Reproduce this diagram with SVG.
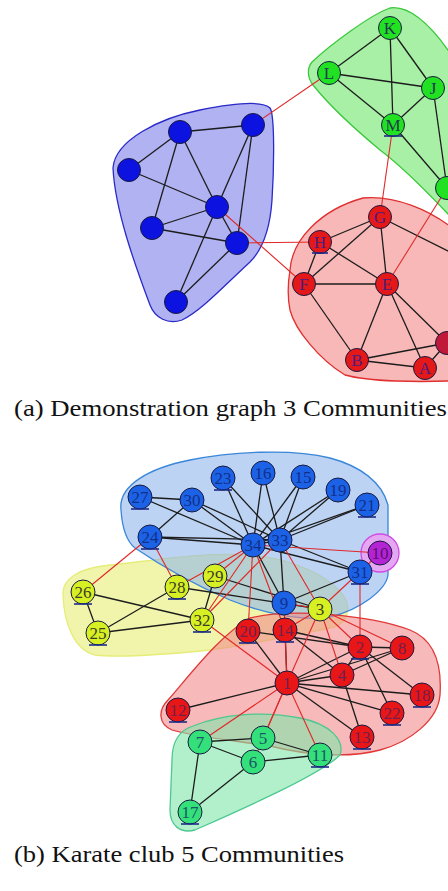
<svg xmlns="http://www.w3.org/2000/svg" width="448" height="891" viewBox="0 0 448 891">
  <defs>
    <style>
      .e { stroke: #1c1c1c; stroke-width: 1.3; fill: none; }
      .x { stroke: #e02828; stroke-width: 1.1; fill: none; }
      .n { stroke: #1a1a40; stroke-width: 1; }
      .u { stroke: #1a2a88; stroke-width: 1.6; }
      .lb { font-family: "Liberation Serif", serif; font-size: 17px; text-anchor: middle; }
      .cap { font-family: "Liberation Serif", serif; font-size: 23px; fill: #111; }
      .hull { stroke-width: 1.3; }
    </style>
  </defs>

  <!-- ===== (a) demonstration graph ===== -->
  <g id="a-hulls">
    <path id="hull-a-blue" class="hull" fill="#b0b2f2" stroke="#2a2ac8"
          d="M 113,168 C 115,140 160,118 200,110 C 230,104 262,100 270,108 C 275,115 274,170 272,200 C 270,230 262,250 250,262 C 225,285 200,312 182,320 C 168,325 155,318 150,305 C 135,265 115,210 113,168 Z"/>
    <path id="hull-a-green" class="hull" fill="#a8f0a6" stroke="#3cc83c"
          d="M 312,62 C 330,45 370,15 390,8 C 410,5 430,25 448,50 L 470,80 L 470,240 L 448,214 C 430,195 400,165 380,150 C 350,125 325,100 313,85 C 307,77 307,68 312,62 Z"/>
    <path id="hull-a-red" class="hull" fill="#f8b8b8" stroke="#e03030"
          d="M 290,270 C 292,240 320,210 363,198 C 395,195 430,210 455,230 L 470,250 L 470,385 L 448,381 C 420,382 370,382 345,375 C 320,360 295,330 290,310 C 287,295 288,282 290,270 Z"/>
  </g>

  <g id="a-connectors">
    <!-- blue community -->
    <line class="e" x1="129" y1="170" x2="180" y2="132"/>
    <line class="e" x1="180" y1="132" x2="253" y2="125"/>
    <line class="e" x1="129" y1="170" x2="217" y2="207"/>
    <line class="e" x1="180" y1="132" x2="217" y2="207"/>
    <line class="e" x1="180" y1="132" x2="152" y2="228"/>
    <line class="e" x1="253" y1="125" x2="217" y2="207"/>
    <line class="e" x1="253" y1="125" x2="237" y2="243"/>
    <line class="e" x1="217" y1="207" x2="152" y2="228"/>
    <line class="e" x1="152" y1="228" x2="237" y2="243"/>
    <line class="e" x1="217" y1="207" x2="176" y2="302"/>
    <line class="e" x1="237" y1="243" x2="176" y2="302"/>
    <line class="e" x1="217" y1="207" x2="237" y2="243"/>
    <!-- green community -->
    <line class="e" x1="390" y1="28" x2="329" y2="73"/>
    <line class="e" x1="390" y1="28" x2="393" y2="125"/>
    <line class="e" x1="390" y1="28" x2="433" y2="88"/>
    <line class="e" x1="329" y1="73" x2="433" y2="88"/>
    <line class="e" x1="329" y1="73" x2="393" y2="125"/>
    <line class="e" x1="433" y1="88" x2="393" y2="125"/>
    <line class="e" x1="433" y1="88" x2="447" y2="188"/>
    <line class="e" x1="393" y1="125" x2="447" y2="188"/>
    <!-- red community -->
    <line class="e" x1="380" y1="217" x2="320" y2="242"/>
    <line class="e" x1="380" y1="217" x2="304" y2="284"/>
    <line class="e" x1="380" y1="217" x2="387" y2="284"/>
    <line class="e" x1="380" y1="217" x2="470" y2="262"/>
    <line class="e" x1="320" y1="242" x2="304" y2="284"/>
    <line class="e" x1="320" y1="242" x2="387" y2="284"/>
    <line class="e" x1="304" y1="284" x2="387" y2="284"/>
    <line class="e" x1="304" y1="284" x2="357" y2="360"/>
    <line class="e" x1="387" y1="284" x2="357" y2="360"/>
    <line class="e" x1="387" y1="284" x2="425" y2="368"/>
    <line class="e" x1="387" y1="284" x2="447" y2="343"/>
    <line class="e" x1="357" y1="360" x2="425" y2="368"/>
    <line class="e" x1="357" y1="360" x2="447" y2="343"/>
    <line class="e" x1="425" y1="368" x2="447" y2="343"/>
    <!-- between communities -->
    <line class="x" x1="329" y1="73" x2="253" y2="125"/>
    <line class="x" x1="393" y1="125" x2="380" y2="217"/>
    <line class="x" x1="447" y1="188" x2="387" y2="284"/>
    <line class="x" x1="217" y1="207" x2="304" y2="284"/>
    <line class="x" x1="237" y1="243" x2="320" y2="242"/>
  </g>

  <g id="a-nodes">
    <g id="a-b1"><circle class="n" cx="129" cy="170" r="11.5" fill="#0c12e0"/></g>
    <g id="a-b2"><circle class="n" cx="180" cy="132" r="11.5" fill="#0c12e0"/></g>
    <g id="a-b3"><circle class="n" cx="253" cy="125" r="11.5" fill="#0c12e0"/></g>
    <g id="a-b4"><circle class="n" cx="217" cy="207" r="11.5" fill="#0c12e0"/></g>
    <g id="a-b5"><circle class="n" cx="152" cy="228" r="11.5" fill="#0c12e0"/></g>
    <g id="a-b6"><circle class="n" cx="237" cy="243" r="11.5" fill="#0c12e0"/></g>
    <g id="a-b7"><circle class="n" cx="176" cy="302" r="11.5" fill="#0c12e0"/></g>

    <g id="a-K"><circle class="n" cx="390" cy="28" r="11.5" fill="#22e022"/><text class="lb" x="390" y="34" fill="#1e3c50">K</text></g>
    <g id="a-L"><circle class="n" cx="329" cy="73" r="11.5" fill="#22e022"/><text class="lb" x="329" y="79" fill="#1e3c50">L</text></g>
    <g id="a-J"><circle class="n" cx="433" cy="88" r="11.5" fill="#22e022"/><text class="lb" x="433" y="94" fill="#1e3c50">J</text></g>
    <g id="a-M"><circle class="n" cx="393" cy="125" r="11.5" fill="#22e022"/><text class="lb" x="393" y="131" fill="#1e3c50">M</text><line class="u" x1="384" y1="136" x2="402" y2="136"/></g>
    <g id="a-N"><circle class="n" cx="447" cy="188" r="11.5" fill="#22e022"/></g>

    <g id="a-G"><circle class="n" cx="380" cy="217" r="11.5" fill="#e41818"/><text class="lb" x="380" y="223" fill="#4a1e80">G</text></g>
    <g id="a-H"><circle class="n" cx="320" cy="242" r="11.5" fill="#e41818"/><text class="lb" x="320" y="248" fill="#4a1e80">H</text><line class="u" x1="312" y1="253" x2="328" y2="253"/></g>
    <g id="a-F"><circle class="n" cx="304" cy="284" r="11.5" fill="#e41818"/><text class="lb" x="304" y="290" fill="#4a1e80">F</text></g>
    <g id="a-E"><circle class="n" cx="387" cy="284" r="11.5" fill="#e41818"/><text class="lb" x="387" y="290" fill="#4a1e80">E</text></g>
    <g id="a-B"><circle class="n" cx="357" cy="360" r="11.5" fill="#e41818"/><text class="lb" x="357" y="366" fill="#4a1e80">B</text></g>
    <g id="a-A"><circle class="n" cx="425" cy="368" r="11.5" fill="#e41818"/><text class="lb" x="425" y="374" fill="#4a1e80">A</text></g>
    <g id="a-D"><circle class="n" cx="447" cy="343" r="11.5" fill="#c01838"/></g>
  </g>

  <text class="cap" x="14" y="416" font-family="Liberation Serif, serif" textLength="433" lengthAdjust="spacingAndGlyphs">(a) Demonstration graph 3 Communities</text>

  <!-- ===== (b) karate club ===== -->
  <g id="b-hulls">
    <path id="hull-b-yellow" class="hull" fill="#eef296" fill-opacity="0.8" stroke="#e6ec78"
          d="M 63,595 C 62,578 80,568 110,565 C 150,561 200,552 250,555 C 290,558 330,575 345,598 C 352,612 345,625 330,628 C 290,636 250,645 210,650 C 170,654 120,658 95,655 C 75,650 64,625 63,595 Z"/>
    <path id="hull-b-blue" class="hull" fill="#8cb4ec" fill-opacity="0.58" stroke="#3a86d8"
          d="M 121,510 C 118,485 150,468 190,460 C 230,452 290,448 330,458 C 360,466 382,482 388,505 L 388,575 C 386,590 360,610 330,617 C 300,622 260,612 230,600 C 195,585 160,565 135,548 C 125,540 122,525 121,510 Z"/>
    <path id="hull-b-red" class="hull" fill="#f28a8a" fill-opacity="0.6" stroke="#e03838"
          d="M 168,700 C 190,675 220,635 250,618 C 290,608 370,615 410,630 C 435,640 442,665 440,695 C 438,720 410,742 380,750 C 350,758 310,756 270,746 C 230,740 190,736 172,730 C 158,724 158,710 168,700 Z"/>
    <path id="hull-b-green" class="hull" fill="#7ee6a8" fill-opacity="0.6" stroke="#4cc890"
          d="M 193,726 C 220,715 260,710 300,718 C 330,724 345,740 340,755 C 320,775 240,810 195,830 C 180,834 170,825 170,810 L 172,760 C 172,740 180,730 193,726 Z"/>
    <circle id="hull-b-purple" class="hull" cx="380" cy="553" r="19" fill="#e4a8f2" stroke="#d04ae6"/>
  </g>

  <g id="b-connectors">
    <!-- inside communities -->
    <line class="e" x1="287" y1="683" x2="360" y2="647"/>
    <line class="e" x1="287" y1="683" x2="342" y2="675"/>
    <line class="e" x1="287" y1="683" x2="402" y2="648"/>
    <line class="e" x1="287" y1="683" x2="178" y2="710"/>
    <line class="e" x1="287" y1="683" x2="362" y2="737"/>
    <line class="e" x1="287" y1="683" x2="285" y2="630"/>
    <line class="e" x1="287" y1="683" x2="422" y2="695"/>
    <line class="e" x1="287" y1="683" x2="248" y2="631"/>
    <line class="e" x1="287" y1="683" x2="392" y2="713"/>
    <line class="e" x1="360" y1="647" x2="342" y2="675"/>
    <line class="e" x1="360" y1="647" x2="402" y2="648"/>
    <line class="e" x1="360" y1="647" x2="285" y2="630"/>
    <line class="e" x1="360" y1="647" x2="422" y2="695"/>
    <line class="e" x1="360" y1="647" x2="248" y2="631"/>
    <line class="e" x1="360" y1="647" x2="392" y2="713"/>
    <line class="e" x1="342" y1="675" x2="402" y2="648"/>
    <line class="e" x1="342" y1="675" x2="362" y2="737"/>
    <line class="e" x1="342" y1="675" x2="285" y2="630"/>
    <line class="e" x1="320" y1="609" x2="177" y2="587"/>
    <line class="e" x1="320" y1="609" x2="215" y2="576"/>
    <line class="e" x1="263" y1="738" x2="200" y2="742"/>
    <line class="e" x1="263" y1="738" x2="320" y2="755"/>
    <line class="e" x1="253" y1="762" x2="200" y2="742"/>
    <line class="e" x1="253" y1="762" x2="320" y2="755"/>
    <line class="e" x1="253" y1="762" x2="190" y2="812"/>
    <line class="e" x1="200" y1="742" x2="190" y2="812"/>
    <line class="e" x1="284" y1="603" x2="360" y2="572"/>
    <line class="e" x1="284" y1="603" x2="280" y2="540"/>
    <line class="e" x1="284" y1="603" x2="253" y2="545"/>
    <line class="e" x1="303" y1="477" x2="280" y2="540"/>
    <line class="e" x1="303" y1="477" x2="253" y2="545"/>
    <line class="e" x1="263" y1="473" x2="280" y2="540"/>
    <line class="e" x1="263" y1="473" x2="253" y2="545"/>
    <line class="e" x1="338" y1="490" x2="280" y2="540"/>
    <line class="e" x1="338" y1="490" x2="253" y2="545"/>
    <line class="e" x1="367" y1="505" x2="280" y2="540"/>
    <line class="e" x1="367" y1="505" x2="253" y2="545"/>
    <line class="e" x1="223" y1="478" x2="280" y2="540"/>
    <line class="e" x1="223" y1="478" x2="253" y2="545"/>
    <line class="e" x1="150" y1="537" x2="192" y2="500"/>
    <line class="e" x1="150" y1="537" x2="280" y2="540"/>
    <line class="e" x1="150" y1="537" x2="253" y2="545"/>
    <line class="e" x1="98" y1="633" x2="83" y2="592"/>
    <line class="e" x1="98" y1="633" x2="177" y2="587"/>
    <line class="e" x1="98" y1="633" x2="202" y2="620"/>
    <line class="e" x1="83" y1="592" x2="202" y2="620"/>
    <line class="e" x1="140" y1="497" x2="192" y2="500"/>
    <line class="e" x1="140" y1="497" x2="253" y2="545"/>
    <line class="e" x1="215" y1="576" x2="202" y2="620"/>
    <line class="e" x1="192" y1="500" x2="280" y2="540"/>
    <line class="e" x1="192" y1="500" x2="253" y2="545"/>
    <line class="e" x1="360" y1="572" x2="280" y2="540"/>
    <line class="e" x1="360" y1="572" x2="253" y2="545"/>
    <line class="e" x1="280" y1="540" x2="253" y2="545"/>
    <!-- between communities -->
    <line class="x" x1="287" y1="683" x2="320" y2="609"/>
    <line class="x" x1="287" y1="683" x2="263" y2="738"/>
    <line class="x" x1="287" y1="683" x2="253" y2="762"/>
    <line class="x" x1="287" y1="683" x2="200" y2="742"/>
    <line class="x" x1="287" y1="683" x2="284" y2="603"/>
    <line class="x" x1="287" y1="683" x2="320" y2="755"/>
    <line class="x" x1="287" y1="683" x2="202" y2="620"/>
    <line class="x" x1="360" y1="647" x2="320" y2="609"/>
    <line class="x" x1="360" y1="647" x2="360" y2="572"/>
    <line class="x" x1="320" y1="609" x2="342" y2="675"/>
    <line class="x" x1="320" y1="609" x2="402" y2="648"/>
    <line class="x" x1="320" y1="609" x2="284" y2="603"/>
    <line class="x" x1="320" y1="609" x2="380" y2="553"/>
    <line class="x" x1="320" y1="609" x2="285" y2="630"/>
    <line class="x" x1="320" y1="609" x2="280" y2="540"/>
    <line class="x" x1="380" y1="553" x2="253" y2="545"/>
    <line class="x" x1="285" y1="630" x2="253" y2="545"/>
    <line class="x" x1="248" y1="631" x2="253" y2="545"/>
    <line class="x" x1="150" y1="537" x2="83" y2="592"/>
    <line class="x" x1="150" y1="537" x2="177" y2="587"/>
    <line class="x" x1="177" y1="587" x2="253" y2="545"/>
    <line class="x" x1="215" y1="576" x2="253" y2="545"/>
    <line class="x" x1="202" y1="620" x2="280" y2="540"/>
    <line class="x" x1="202" y1="620" x2="253" y2="545"/>
  </g>

  <g id="b-nodes">
    <!-- blue -->
    <g id="k27"><circle class="n" cx="140" cy="497" r="12" fill="#1c62e6"/><text class="lb" x="140" y="503" fill="#12308a">27</text><line class="u" x1="131" y1="509" x2="149" y2="509"/></g>
    <g id="k30"><circle class="n" cx="192" cy="500" r="12" fill="#1c62e6"/><text class="lb" x="192" y="506" fill="#12308a">30</text></g>
    <g id="k23"><circle class="n" cx="223" cy="478" r="12" fill="#1c62e6"/><text class="lb" x="223" y="484" fill="#12308a">23</text><line class="u" x1="214" y1="490" x2="232" y2="490"/></g>
    <g id="k16"><circle class="n" cx="263" cy="473" r="12" fill="#1c62e6"/><text class="lb" x="263" y="479" fill="#12308a">16</text></g>
    <g id="k15"><circle class="n" cx="303" cy="477" r="12" fill="#1c62e6"/><text class="lb" x="303" y="483" fill="#12308a">15</text></g>
    <g id="k19"><circle class="n" cx="338" cy="490" r="12" fill="#1c62e6"/><text class="lb" x="338" y="496" fill="#12308a">19</text></g>
    <g id="k21"><circle class="n" cx="367" cy="505" r="12" fill="#1c62e6"/><text class="lb" x="367" y="511" fill="#12308a">21</text><line class="u" x1="358" y1="517" x2="376" y2="517"/></g>
    <g id="k24"><circle class="n" cx="150" cy="537" r="12" fill="#1c62e6"/><text class="lb" x="150" y="543" fill="#12308a">24</text><line class="u" x1="141" y1="549" x2="159" y2="549"/></g>
    <g id="k34"><circle class="n" cx="253" cy="545" r="12" fill="#1c62e6"/><text class="lb" x="253" y="551" fill="#12308a">34</text></g>
    <g id="k33"><circle class="n" cx="280" cy="540" r="12" fill="#1c62e6"/><text class="lb" x="280" y="546" fill="#12308a">33</text></g>
    <g id="k31"><circle class="n" cx="360" cy="572" r="12" fill="#1c62e6"/><text class="lb" x="360" y="578" fill="#12308a">31</text><line class="u" x1="351" y1="584" x2="369" y2="584"/></g>
    <g id="k9"><circle class="n" cx="284" cy="603" r="12" fill="#1c62e6"/><text class="lb" x="284" y="609" fill="#12308a">9</text></g>
    <!-- purple -->
    <g id="k10"><circle class="n" cx="380" cy="553" r="12" fill="#b424d4"/><text class="lb" x="380" y="559" fill="#5a1070">10</text></g>
    <!-- yellow -->
    <g id="k3"><circle class="n" cx="320" cy="609" r="12" fill="#d6f024"/><text class="lb" x="320" y="615" fill="#3c3c28">3</text></g>
    <g id="k29"><circle class="n" cx="215" cy="576" r="12" fill="#d6f024"/><text class="lb" x="215" y="582" fill="#3c3c28">29</text></g>
    <g id="k28"><circle class="n" cx="177" cy="587" r="12" fill="#d6f024"/><text class="lb" x="177" y="593" fill="#3c3c28">28</text><line class="u" x1="168" y1="599" x2="186" y2="599"/></g>
    <g id="k26"><circle class="n" cx="83" cy="592" r="12" fill="#d6f024"/><text class="lb" x="83" y="598" fill="#3c3c28">26</text><line class="u" x1="74" y1="604" x2="92" y2="604"/></g>
    <g id="k25"><circle class="n" cx="98" cy="633" r="12" fill="#d6f024"/><text class="lb" x="98" y="639" fill="#3c3c28">25</text><line class="u" x1="89" y1="645" x2="107" y2="645"/></g>
    <g id="k32"><circle class="n" cx="202" cy="620" r="12" fill="#d6f024"/><text class="lb" x="202" y="626" fill="#3c3c28">32</text><line class="u" x1="193" y1="632" x2="211" y2="632"/></g>
    <!-- red -->
    <g id="k20"><circle class="n" cx="248" cy="631" r="12" fill="#e81616"/><text class="lb" x="248" y="637" fill="#70204c">20</text><line class="u" x1="239" y1="643" x2="257" y2="643"/></g>
    <g id="k14"><circle class="n" cx="285" cy="630" r="12" fill="#e81616"/><text class="lb" x="285" y="636" fill="#70204c">14</text><line class="u" x1="276" y1="642" x2="294" y2="642"/></g>
    <g id="k2"><circle class="n" cx="360" cy="647" r="12" fill="#e81616"/><text class="lb" x="360" y="653" fill="#70204c">2</text><line class="u" x1="351" y1="659" x2="369" y2="659"/></g>
    <g id="k8"><circle class="n" cx="402" cy="648" r="12" fill="#e81616"/><text class="lb" x="402" y="654" fill="#70204c">8</text></g>
    <g id="k4"><circle class="n" cx="342" cy="675" r="12" fill="#e81616"/><text class="lb" x="342" y="681" fill="#70204c">4</text></g>
    <g id="k1"><circle class="n" cx="287" cy="683" r="12" fill="#e81616"/><text class="lb" x="287" y="689" fill="#70204c">1</text></g>
    <g id="k18"><circle class="n" cx="422" cy="695" r="12" fill="#e81616"/><text class="lb" x="422" y="701" fill="#70204c">18</text><line class="u" x1="413" y1="707" x2="431" y2="707"/></g>
    <g id="k22"><circle class="n" cx="392" cy="713" r="12" fill="#e81616"/><text class="lb" x="392" y="719" fill="#70204c">22</text><line class="u" x1="383" y1="725" x2="401" y2="725"/></g>
    <g id="k13"><circle class="n" cx="362" cy="737" r="12" fill="#e81616"/><text class="lb" x="362" y="743" fill="#70204c">13</text><line class="u" x1="353" y1="749" x2="371" y2="749"/></g>
    <g id="k12"><circle class="n" cx="178" cy="710" r="12" fill="#e81616"/><text class="lb" x="178" y="716" fill="#70204c">12</text><line class="u" x1="169" y1="722" x2="187" y2="722"/></g>
    <!-- green -->
    <g id="k7"><circle class="n" cx="200" cy="742" r="12" fill="#34e07a"/><text class="lb" x="200" y="748" fill="#1c5668">7</text></g>
    <g id="k5"><circle class="n" cx="263" cy="738" r="12" fill="#34e07a"/><text class="lb" x="263" y="744" fill="#1c5668">5</text></g>
    <g id="k6"><circle class="n" cx="253" cy="762" r="12" fill="#34e07a"/><text class="lb" x="253" y="768" fill="#1c5668">6</text></g>
    <g id="k11"><circle class="n" cx="320" cy="755" r="12" fill="#34e07a"/><text class="lb" x="320" y="761" fill="#1c5668">11</text><line class="u" x1="311" y1="767" x2="329" y2="767"/></g>
    <g id="k17"><circle class="n" cx="190" cy="812" r="12" fill="#34e07a"/><text class="lb" x="190" y="818" fill="#1c5668">17</text><line class="u" x1="181" y1="824" x2="199" y2="824"/></g>
  </g>

  <text class="cap" x="14" y="862" font-family="Liberation Serif, serif" textLength="330" lengthAdjust="spacingAndGlyphs">(b) Karate club 5 Communities</text>
</svg>
